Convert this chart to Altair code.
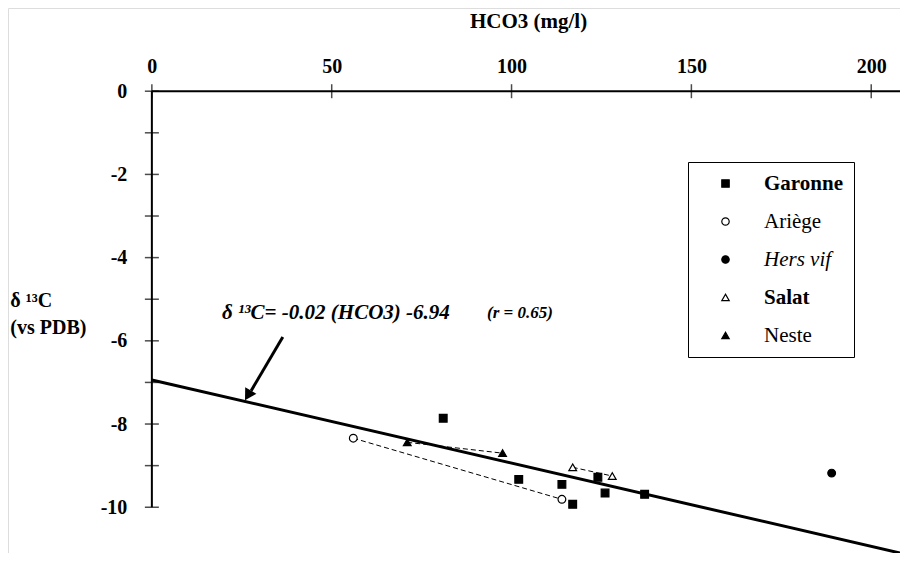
import altair as alt
import pandas as pd

# ---------------- data ----------------
series = ["Garonne", "Ariège", "Hers vif", "Salat", "Neste"]
series_shapes = ["square", "circle", "circle", "triangle-up", "triangle-up"]
series_fills = ["black", "white", "black", "white", "black"]

garonne_x = [81, 102, 114, 117, 124, 126, 137]
garonne_y = [-7.86, -9.33, -9.45, -9.93, -9.28, -9.66, -9.69]
ariege_x = [56, 114]
ariege_y = [-8.34, -9.81]
hers_x = [189]
hers_y = [-9.18]
salat_x = [117, 128]
salat_y = [-9.04, -9.25]
neste_x = [71, 97.5]
neste_y = [-8.44, -8.70]

fit_x = [0, 208]
fit_y = [-6.94, -11.10]

x_tick_values = [0, 50, 100, 150, 200]
y_label_values = [0, -2, -4, -6, -8, -10]
y_minor_values = [0, -1, -2, -3, -4, -5, -6, -7, -8, -9, -10]

equation_text = "δ ¹³C= -0.02 (HCO3) -6.94"
r_text = "(r = 0.65)"

FONT = "'Liberation Serif', 'Times New Roman', 'DejaVu Serif', serif"

# ---------------- tables ----------------
rows = []
for name, xs_, ys_ in [("Garonne", garonne_x, garonne_y), ("Ariège", ariege_x, ariege_y),
                       ("Hers vif", hers_x, hers_y), ("Salat", salat_x, salat_y),
                       ("Neste", neste_x, neste_y)]:
    for a, b in zip(xs_, ys_):
        rows.append({"series": name, "x": a, "y": b})
pts = pd.DataFrame(rows)
lines_df = pts[pts["series"].isin(["Ariège", "Salat", "Neste"])]
fit_df = pd.DataFrame({"x": fit_x, "y": fit_y})

W, H = 892, 545
X_DOM = [-40, 208]
Y_DOM = [-11.1, 2.0]
x0_px = (0 - X_DOM[0]) / (X_DOM[1] - X_DOM[0]) * W
y0_px = (Y_DOM[1] - 0) / (Y_DOM[1] - Y_DOM[0]) * H

xscale = alt.Scale(domain=X_DOM, nice=False, zero=False)
yscale = alt.Scale(domain=Y_DOM, nice=False, zero=False)

xaxis = alt.Axis(orient="top", offset=-y0_px, values=x_tick_values, grid=False, ticks=False,
                 tickSize=0, domain=False, labelPadding=15, labelFontSize=20, labelFontWeight="bold",
                 labelFont=FONT, labelColor="black", labelExpr="toString(datum.value)",
                 title="HCO3 (mg/l)", titleFontSize=21, titleFontWeight="bold",
                 titleFont=FONT, titleColor="black",
                 titleX=520, titleY=-64, titleBaseline="alphabetic", titleAlign="center")
yaxis = alt.Axis(orient="left", offset=-x0_px, values=y_label_values, grid=False, ticks=False,
                 tickSize=0, domain=False, labelPadding=25, labelFontSize=20, labelFontWeight="bold",
                 labelFont=FONT, labelColor="black", labelExpr="toString(datum.value)",
                 title=["δ ¹³C", "(vs PDB)"], titleFontSize=20, titleFontWeight="bold",
                 titleFont=FONT, titleColor="black", titleAngle=0,
                 titleAlign="left", titleBaseline="alphabetic", titleX=-142, titleY=298,
                 titleLineHeight=27)


def X(field="x"):
    return alt.X(field, type="quantitative", scale=xscale, axis=xaxis)


def Y(field="y"):
    return alt.Y(field, type="quantitative", scale=yscale, axis=yaxis)


fit = alt.Chart(fit_df).mark_line(color="black", strokeWidth=3).encode(x=X(), y=Y())

series_lines = alt.Chart(lines_df).mark_line(color="black", strokeWidth=1, strokeDash=[5, 3]).encode(
    x=X(), y=Y(), detail="series:N")

legend = alt.Legend(title=None, orient="none", legendX=680, legendY=154,
                    strokeColor="black", fillColor="white", padding=11, rowPadding=16,
                    symbolOffset=16, labelOffset=28, labelFontSize=21, labelFont=FONT,
                    labelColor="black", symbolSize=55, symbolStrokeColor="black",
                    symbolStrokeWidth=1.2,
                    labelFontWeight={"expr": "datum.label == 'Garonne' || datum.label == 'Salat' ? 'bold' : 'normal'"},
                    labelFontStyle={"expr": "datum.label == 'Hers vif' ? 'italic' : 'normal'"})

points = alt.Chart(pts).mark_point(filled=True, strokeWidth=1.2, opacity=1, size=60).encode(
    x=X(), y=Y(),
    shape=alt.Shape("series:N", scale=alt.Scale(domain=series, range=series_shapes), legend=legend),
    fill=alt.Fill("series:N", scale=alt.Scale(domain=series, range=series_fills), legend=legend),
    stroke=alt.Stroke("series:N", scale=alt.Scale(domain=series, range=["black"] * 5), legend=legend),
)

# axis lines and crossing ticks
xaxis_line = alt.Chart(pd.DataFrame({"x": [0], "x2": [X_DOM[1]], "y": [0]})).mark_rule(
    color="black", strokeWidth=2).encode(x=X(), x2="x2", y=Y())
yaxis_line = alt.Chart(pd.DataFrame({"x": [0], "y": [0], "y2": [-10]})).mark_rule(
    color="black", strokeWidth=2).encode(x=X(), y=Y(), y2="y2")
xt = alt.Chart(pd.DataFrame({"x": x_tick_values, "y": [0] * len(x_tick_values)})).mark_tick(
    orient="vertical", color="black", size=14, thickness=1.5).encode(x=X(), y=Y())
yt = alt.Chart(pd.DataFrame({"x": [0] * len(y_minor_values), "y": y_minor_values})).mark_tick(
    orient="horizontal", color="black", size=14, thickness=1.5).encode(x=X(), y=Y())

eq = alt.Chart(pd.DataFrame({"x": [19.5], "y": [-5.34], "t": [equation_text]})).mark_text(
    align="left", baseline="middle", fontSize=21, fontStyle="italic", fontWeight="bold",
    font=FONT, color="black").encode(x=X(), y=Y(), text="t:N")
rr = alt.Chart(pd.DataFrame({"x": [93.2], "y": [-5.34], "t": [r_text]})).mark_text(
    align="left", baseline="middle", fontSize=17, fontStyle="italic", fontWeight="bold",
    font=FONT, color="black").encode(x=X(), y=Y(), text="t:N")

arrow = alt.Chart(pd.DataFrame({"x": [36.4], "y": [-5.91], "x2": [27.6], "y2": [-7.2]})).mark_rule(
    color="black", strokeWidth=3).encode(x=X(), y=Y(), x2="x2", y2="y2")
head = alt.Chart(pd.DataFrame({"x": [26.7], "y": [-7.31]})).mark_point(
    shape="triangle-up", angle=211, filled=True, size=170, color="black", opacity=1).encode(x=X(), y=Y())

chart = alt.layer(fit, series_lines, xaxis_line, yaxis_line, xt, yt, eq, rr, arrow, head, points).properties(
    width=W, height=H, padding=0, autosize=alt.AutoSizeParams(type="none")
).configure_view(stroke="black", strokeWidth=2).configure(font=FONT, background="white")

chart.save("out.html", embed_options={"renderer": "svg", "actions": False})
